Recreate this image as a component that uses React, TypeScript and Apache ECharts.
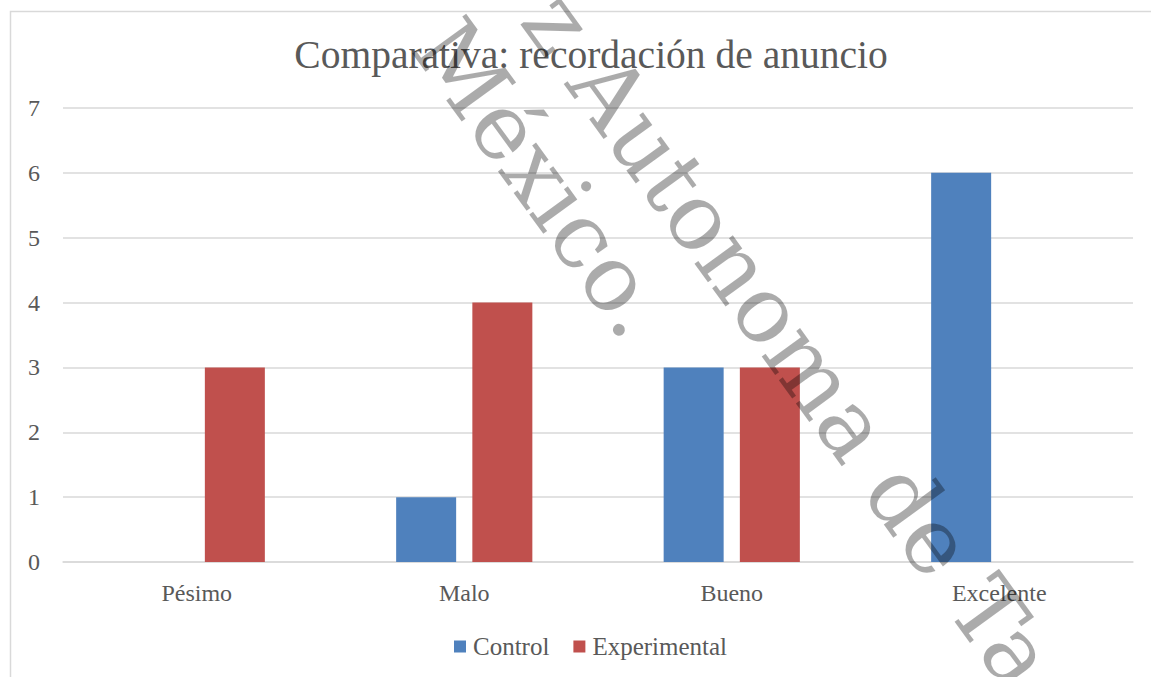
import React, { useEffect, useRef } from "react";
import * as echarts from "echarts";

const titleText = "Comparativa: recordación de anuncio";
const categories = ["Pésimo", "Malo", "Bueno", "Excelente"];
const controlValues = [0, 1, 3, 6];
const experimentalValues = [3, 4, 3, 0];
const seriesNames = ["Control", "Experimental"];
const watermarkLines = ["z Autonoma de Ta", "México."];

const TEXT = "#595959";
const GRID = "#d9d9d9";
const FONT = "'Liberation Serif', serif";

export default function App() {
  const ref = useRef<HTMLDivElement>(null);
  useEffect(() => {
    if (!ref.current) return;
    const chart = echarts.init(ref.current, undefined, { renderer: "svg" });
    const ang = (-54 * Math.PI) / 180;
    chart.setOption({
      animation: false,
      backgroundColor: "#ffffff",
      textStyle: { fontFamily: FONT },
      title: {
        text: titleText,
        left: 586,
        top: 30,
        textAlign: "center",
        textStyle: { fontFamily: FONT, fontSize: 39.5, fontWeight: "normal", color: TEXT },
      },
      legend: {
        data: seriesNames,
        left: 449,
        top: 629,
        itemWidth: 12,
        itemHeight: 12,
        itemGap: 24,
        icon: "rect",
        textStyle: { fontFamily: FONT, fontSize: 25, color: TEXT, padding: [0, 0, 0, 2] },
      },
      grid: { left: 63, right: 18, top: 108, bottom: 115, containLabel: false },
      xAxis: {
        type: "category",
        data: categories,
        axisLine: { show: true, lineStyle: { color: GRID, width: 1.5 } },
        axisTick: { show: false },
        axisLabel: { fontFamily: FONT, fontSize: 24, color: TEXT, margin: 19 },
      },
      yAxis: {
        type: "value",
        min: 0,
        max: 7,
        interval: 1,
        axisLine: { show: false },
        axisTick: { show: false },
        splitLine: { lineStyle: { color: GRID, width: 1.5 } },
        axisLabel: { fontFamily: FONT, fontSize: 24, color: TEXT, margin: 23 },
      },
      series: [
        {
          name: seriesNames[0],
          type: "bar",
          data: controlValues,
          barWidth: 60,
          barGap: "27%",
          itemStyle: { color: "#4f81bd" },
        },
        {
          name: seriesNames[1],
          type: "bar",
          data: experimentalValues,
          barWidth: 60,
          barGap: "27%",
          itemStyle: { color: "#c0504d" },
        },
      ],
      graphic: [
        {
          type: "rect",
          silent: true,
          z: -1,
          shape: { x: 10.5, y: 11.5, width: 1300, height: 800 },
          style: { fill: "none", stroke: GRID, lineWidth: 1.5 },
        },
        {
          type: "text",
          x: 581,
          y: -24,
          rotation: ang,
          z: 100,
          silent: true,
          style: {
            text: watermarkLines[0],
            font: "92px 'DejaVu Serif'",
            fill: "rgba(0,0,0,0.33)",
            textAlign: "left",
            textVerticalAlign: "alphabetic",
          },
        },
        {
          type: "text",
          x: 472,
          y: 4,
          rotation: ang,
          z: 100,
          silent: true,
          style: {
            text: watermarkLines[1],
            font: "92px 'DejaVu Serif'",
            fill: "rgba(0,0,0,0.33)",
            textAlign: "left",
            textVerticalAlign: "alphabetic",
          },
        },
      ],
    });
    return () => chart.dispose();
  }, []);
  return (
    <div
      ref={ref}
      style={{ position: "fixed", left: 0, top: 0, width: 1151, height: 677 }}
    />
  );
}
